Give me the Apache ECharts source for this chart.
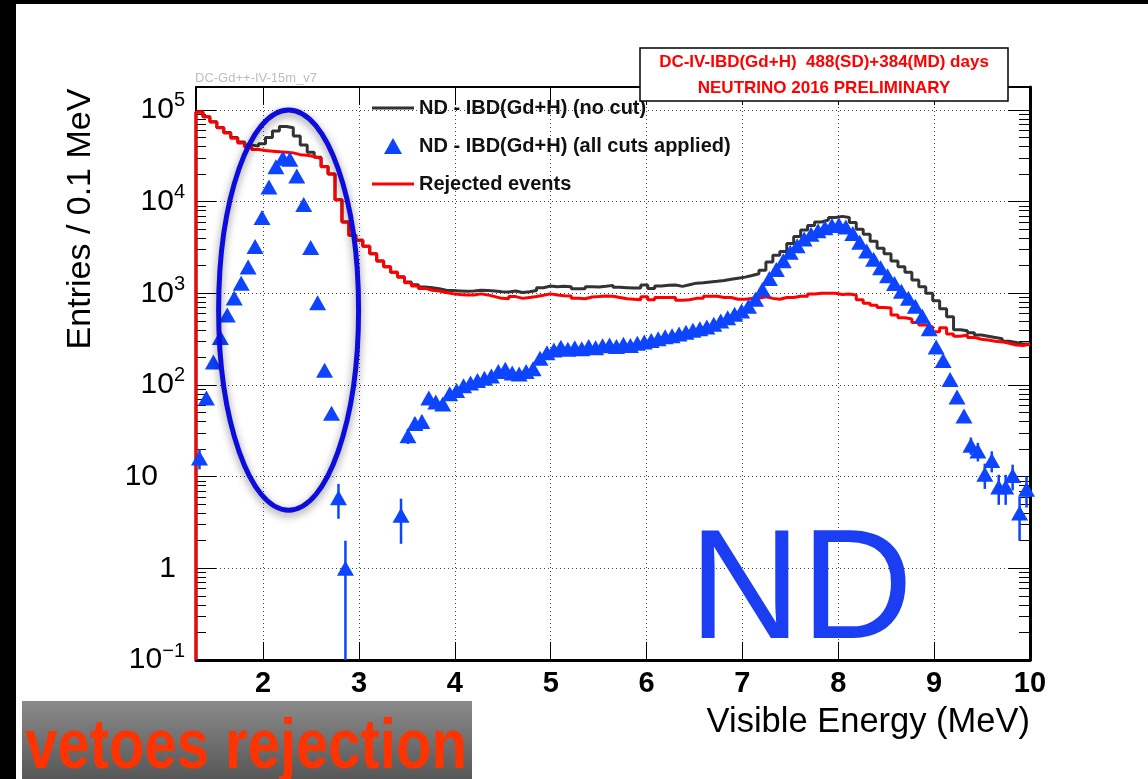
<!DOCTYPE html>
<html>
<head>
<meta charset="utf-8">
<script src="https://cdn.jsdelivr.net/npm/echarts@6/dist/echarts.min.js"></script>
<style>
html,body{margin:0;padding:0;background:#fff;}
#c{width:1148px;height:779px;}
</style>
</head>
<body>
<div id="c"></div>
<script>
// ---- histogram binning (120 bins of 0.0725 MeV from 1.3 to 10 MeV) ----
const binStart = 1.3;
const binWidth = 0.0725;
const xMin = 1.3, xMax = 10;
const yMin = 0.1, yMax = Math.pow(10, 5.25);

// tick labels
const xTickValues = [2, 3, 4, 5, 6, 7, 8, 9, 10];
const yDecadeValues = [0.1, 1, 10, 100, 1000, 10000, 100000];
const yMinorValues = [];
yDecadeValues.forEach(function (d) { for (let k = 2; k <= 9; k++) { if (d * k < yMax) yMinorValues.push(+(d * k).toPrecision(3)); } });

// series names
const nameNoCut = 'ND - IBD(Gd+H) (no cut)';
const nameAllCuts = 'ND - IBD(Gd+H) (all cuts applied)';
const nameRejected = 'Rejected events';

// ND - IBD(Gd+H) (all cuts applied): entries per bin (null = empty bin)
const blueAllCuts = [
  16, 72, 178, 330, 578, 890, 1290, 1940, 3240, 6700,
  14400, 24000, 29700, 29000, 19000, 9300, 3150, 790, 145, 49,
  5.9, 1, null, null, null, null, null, null, null, 3.8,
  28, 38, 40, 72, 65, 62, 80, 87, 98, 105,
  112, 118, 125, 140, 148, 135, 132, 140, 150, 195,
  225, 240, 258, 245, 255, 248, 262, 255, 268, 272,
  262, 278, 270, 285, 295, 305, 320, 335, 345, 360,
  375, 395, 410, 430, 460, 500, 540, 590, 640, 720,
  860, 1100, 1450, 1820, 2260, 2800, 3300, 3900, 4400, 4800,
  5200, 5500, 5600, 5300, 4500, 3600, 2900, 2350, 1900, 1550,
  1280, 1050, 880, 720, 560, 410, 260, 185, 115, 74,
  46, 22, 19, 10.6, 15, 7.7, 7.7, 10.3, 4, 7.3
];

// ND - IBD(Gd+H) (no cut)
const blackNoCut = [
  95000, 84100, 74200, 64300, 56600, 49900, 44800, 41500, 40300, 42800,
  49900, 59000, 66000, 64000, 52000, 41500, 34500, 30500, 24200, 20050,
  10500, 6000, 4300, 3800, 3250, 2700, 2250, 1950, 1700, 1510,
  1330, 1240, 1170, 1150, 1120, 1080, 1070, 1060, 1050, 1060,
  1080, 1070, 1060, 1040, 1030, 1060, 1020, 1040, 1070, 1150,
  1200, 1180, 1190, 1180, 1120, 1120, 1180, 1170, 1190, 1220,
  1160, 1150, 1140, 1140, 1230, 1130, 1200, 1220, 1230, 1190,
  1240, 1290, 1300, 1330, 1350, 1380, 1420, 1460, 1500, 1560,
  1630, 1780, 2200, 2600, 2850, 3500, 4150, 4900, 5500, 6000,
  6300, 6700, 6900, 6700, 5900, 5000, 4400, 3700, 3100, 2700,
  2250, 1950, 1700, 1400, 1180, 1000, 830, 680, 555, 400,
  390, 370, 350, 340, 330, 320, 300, 290, 280, 280
];

// Rejected events
const redRejected = [
  95000, 84000, 74000, 64000, 56000, 49000, 43500, 39500, 37000, 36000,
  35500, 35000, 34500, 34000, 32500, 32000, 31000, 29500, 24000, 20000,
  10500, 6000, 4300, 3800, 3250, 2700, 2250, 1950, 1700, 1500,
  1300, 1200, 1130, 1080, 1060, 1020, 990, 970, 955, 960,
  985, 960, 920, 880, 870, 920, 880, 900, 920, 950,
  985, 960, 940, 935, 880, 870, 910, 920, 935, 930,
  900, 870, 860, 850, 915, 850, 900, 900, 900, 840,
  850, 880, 880, 930, 930, 900, 900, 860, 860, 880,
  880, 915, 880, 860, 900, 900, 930, 930, 980, 1000,
  1000, 1000, 970, 980, 960, 850, 780, 740, 700, 690,
  580, 540, 525, 480, 450, 430, 380, 420, 360, 340,
  350, 330, 315, 310, 300, 295, 285, 272, 270, 278
];

// ---- build library data ----
function stepData(vals) {
  const d = [[binStart, yMin]];
  vals.forEach(function (v, i) { d.push([+(binStart + i * binWidth).toFixed(5), v]); });
  d.push([xMax, vals[vals.length - 1]]);
  return d;
}
const bluePoints = [];
const blueBars = [];
blueAllCuts.forEach(function (v, i) {
  if (v == null) return;
  const c = +(binStart + (i + 0.5) * binWidth).toFixed(5);
  bluePoints.push([c, v]);
  blueBars.push([c, v, Math.sqrt(v)]); // Poisson (sqrt N) statistical error
});

const BLUE = '#0d44ff';
const FONT = '"Liberation Sans", Arial, Helvetica, sans-serif';
const LINE_ICON = 'path://M0,0H42V3H0Z';

const chart = echarts.init(document.getElementById('c'), null, { renderer: 'canvas' });

function yLabel(v) {
  const e = Math.round(Math.log10(v));
  if (e === 1) return '{b|10}{p1|}';
  if (e === 0) return '{b|1}{p2|}';
  return '{b|10}{s|' + (e < 0 ? '\u2212' : '') + Math.abs(e) + '}';
}

const option = {
  animation: false,
  backgroundColor: '#ffffff',
  grid: { left: 196, right: 118, top: 87, bottom: 119, show: false },
  legend: {
    left: 367, top: 93, orient: 'vertical',
    itemWidth: 42, itemHeight: 16, itemGap: 18,
    selectedMode: false,
    textStyle: { fontSize: 20, fontWeight: 'bold', fontFamily: FONT, color: '#111', lineHeight: 20 },
    data: [
      { name: nameNoCut, icon: LINE_ICON, itemStyle: { color: '#333333' } },
      { name: nameAllCuts, icon: 'path://M9,0L18,16L0,16Z' },
      { name: nameRejected, icon: LINE_ICON, itemStyle: { color: '#ff0000' } }
    ]
  },
  xAxis: [
    {
      type: 'value', min: xMin, max: xMax, position: 'bottom',
      axisLine: { show: true, onZero: false, lineStyle: { color: '#000', width: 3 } },
      axisTick: { show: true, inside: true, length: 18, customValues: xTickValues, lineStyle: { color: '#000', width: 1 } },
      axisLabel: { show: true, customValues: xTickValues, fontSize: 29, fontWeight: 'bold', fontFamily: FONT, color: '#000', margin: 9 },
      splitLine: { show: true, lineStyle: { color: '#444', width: 1, type: [1, 3] } },
      minorTick: { show: false }
    },
    {
      type: 'value', min: xMin, max: xMax, position: 'top',
      axisLine: { show: true, onZero: false, lineStyle: { color: '#000', width: 2 } },
      axisTick: { show: true, inside: true, length: 18, customValues: xTickValues, lineStyle: { color: '#000', width: 1 } },
      axisLabel: { show: false },
      splitLine: { show: false }
    }
  ],
  yAxis: [
    {
      type: 'log', logBase: 10, min: yMin, max: yMax, position: 'left',
      axisLine: { show: true, onZero: false, lineStyle: { color: '#000', width: 2 } },
      axisTick: { show: true, inside: true, length: 20, customValues: yDecadeValues, lineStyle: { color: '#000', width: 1 } },
      axisLabel: {
        show: true, customValues: yDecadeValues, margin: 11, formatter: yLabel,
        rich: {
          b: { fontSize: 30, fontFamily: FONT, color: '#000', lineHeight: 38 },
          s: { fontSize: 20, fontFamily: FONT, color: '#000', lineHeight: 20, verticalAlign: 'top' },
          p1: { width: 27 },
          p2: { width: 9 }
        }
      },
      splitLine: { show: true, lineStyle: { color: '#444', width: 1, type: [1, 3] } }
    },
    {
      type: 'log', logBase: 10, min: yMin, max: yMax, position: 'left',
      axisLine: { show: false },
      axisTick: { show: true, inside: true, length: 10, customValues: yMinorValues, lineStyle: { color: '#000', width: 1 } },
      axisLabel: { show: false },
      splitLine: { show: false }
    },
    {
      type: 'log', logBase: 10, min: yMin, max: yMax, position: 'right',
      axisLine: { show: true, onZero: false, lineStyle: { color: '#000', width: 3 } },
      axisTick: { show: true, inside: true, length: 22, customValues: yDecadeValues, lineStyle: { color: '#000', width: 1 } },
      axisLabel: { show: false },
      splitLine: { show: false }
    },
    {
      type: 'log', logBase: 10, min: yMin, max: yMax, position: 'right',
      axisLine: { show: false },
      axisTick: { show: true, inside: true, length: 11, customValues: yMinorValues, lineStyle: { color: '#000', width: 1 } },
      axisLabel: { show: false },
      splitLine: { show: false }
    }
  ],
  series: [
    {
      name: nameNoCut, type: 'line', step: 'end', data: stepData(blackNoCut),
      symbol: 'none', showSymbol: false, z: 2, silent: true,
      lineStyle: { color: '#333333', width: 3 }, itemStyle: { color: '#333333' }
    },
    {
      name: nameRejected, type: 'line', step: 'end', data: stepData(redRejected),
      symbol: 'none', showSymbol: false, z: 3, silent: true,
      lineStyle: { color: '#ff0000', width: 3 }, itemStyle: { color: '#ff0000' }
    },
    {
      name: 'errors', type: 'custom', z: 4, silent: true, data: blueBars,
      renderItem: function (params, api) {
        const x = api.value(0), y = api.value(1), e = api.value(2);
        const lo = Math.max(y - e, yMin);
        const p1 = api.coord([x, lo]);
        const p2 = api.coord([x, y + e]);
        return { type: 'line', shape: { x1: p1[0], y1: p1[1], x2: p2[0], y2: p2[1] }, style: { stroke: BLUE, lineWidth: 2.5 } };
      }
    },
    {
      name: nameAllCuts, type: 'scatter', data: bluePoints, z: 5, silent: true,
      symbol: 'triangle', symbolSize: [17, 15], itemStyle: { color: BLUE, opacity: 1 }
    }
  ]
};
chart.setOption(option);

// ---- annotations ----
const ellipseSpec = { x: 2.266, yTop: 1.0e5, yBottom: 4.3, halfWidth: 0.73 };
const pTop = chart.convertToPixel({ xAxisIndex: 0, yAxisIndex: 0 }, [ellipseSpec.x, ellipseSpec.yTop]);
const pBot = chart.convertToPixel({ xAxisIndex: 0, yAxisIndex: 0 }, [ellipseSpec.x, ellipseSpec.yBottom]);
const pSide = chart.convertToPixel({ xAxisIndex: 0, yAxisIndex: 0 }, [ellipseSpec.x + ellipseSpec.halfWidth, ellipseSpec.yTop]);

chart.setOption({
  graphic: [
    { type: 'rect', shape: { x: 0, y: 0, width: 1148, height: 4 }, style: { fill: '#000' }, z: 200, silent: true },
    { type: 'rect', shape: { x: 0, y: 0, width: 16, height: 779 }, style: { fill: '#000' }, z: 200, silent: true },
    {
      type: 'text', z: 150, silent: true,
      style: { text: 'DC-Gd++-IV-15m_v7', x: 195, y: 78, align: 'left', verticalAlign: 'middle', textAlign: 'left', textVerticalAlign: 'middle', font: '13px ' + FONT, fill: '#bdbdbd' }
    },
    { type: 'rect', z: 150, silent: true, shape: { x: 640, y: 48, width: 368, height: 53 }, style: { fill: '#fff', stroke: '#000', lineWidth: 1.5 } },
    {
      type: 'text', z: 151, silent: true,
      style: { text: 'DC-IV-IBD(Gd+H)  488(SD)+384(MD) days', x: 824, y: 62, align: 'center', verticalAlign: 'middle', textAlign: 'center', textVerticalAlign: 'middle', font: 'bold 17px ' + FONT, fill: '#ff0000' }
    },
    {
      type: 'text', z: 151, silent: true,
      style: { text: 'NEUTRINO 2016 PRELIMINARY', x: 824, y: 88, align: 'center', verticalAlign: 'middle', textAlign: 'center', textVerticalAlign: 'middle', font: 'bold 17px ' + FONT, fill: '#ff0000' }
    },
    {
      type: 'text', z: 150, silent: true, x: 81, y: 219, rotation: Math.PI / 2,
      style: { text: 'Entries / 0.1 MeV', x: 0, y: 0, align: 'center', verticalAlign: 'middle', textAlign: 'center', textVerticalAlign: 'middle', font: '34px ' + FONT, fill: '#000' }
    },
    {
      type: 'text', z: 150, silent: true,
      style: { text: 'Visible Energy (MeV)', x: 1030, y: 722, align: 'right', verticalAlign: 'middle', textAlign: 'right', textVerticalAlign: 'middle', font: '34.5px ' + FONT, fill: '#000' }
    },
    {
      type: 'text', z: 150, silent: true,
      style: { text: 'ND', x: 801, y: 595, align: 'center', verticalAlign: 'middle', textAlign: 'center', textVerticalAlign: 'middle', font: '155px ' + FONT, fill: '#1b3ef2' }
    },
    {
      type: 'ellipse', z: 160, silent: true,
      shape: { cx: pTop[0], cy: (pTop[1] + pBot[1]) / 2, rx: Math.abs(pSide[0] - pTop[0]), ry: Math.abs(pBot[1] - pTop[1]) / 2 },
      style: { fill: 'none', stroke: '#0c0cdc', lineWidth: 5, shadowBlur: 8, shadowColor: 'rgba(0,0,0,0.45)', shadowOffsetY: 3 }
    },
    {
      type: 'rect', z: 200, silent: true, shape: { x: 22, y: 701, width: 450, height: 78 },
      style: { fill: new echarts.graphic.LinearGradient(0, 0, 0, 1, [{ offset: 0, color: '#8a8a8a' }, { offset: 1, color: '#575757' }]) }
    },
    {
      type: 'text', z: 201, silent: true, x: 246, y: 748, scaleY: 1.22,
      style: { text: 'vetoes rejection', x: 0, y: 0, align: 'center', verticalAlign: 'middle', textAlign: 'center', textVerticalAlign: 'middle', font: 'bold 58px ' + FONT, fill: '#ff3300', shadowBlur: 4, shadowColor: 'rgba(0,0,0,0.6)', shadowOffsetY: 2 }
    }
  ]
});
</script>
</body>
</html>
